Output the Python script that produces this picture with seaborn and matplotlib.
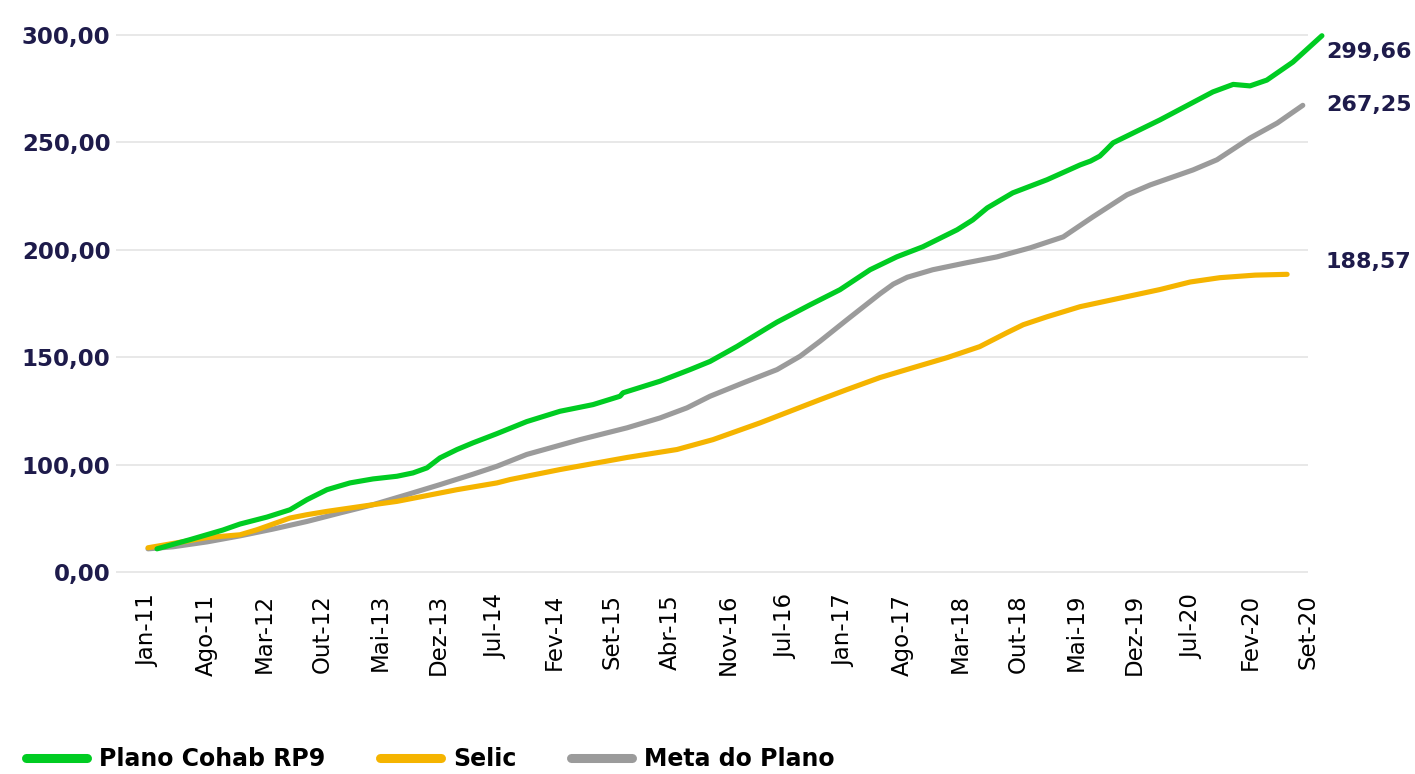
import numpy as np
import pandas as pd
import matplotlib
matplotlib.use("Agg")
import matplotlib.pyplot as plt
from matplotlib.lines import Line2D
import seaborn as sns

# Tick categories along the horizontal axis
x_labels = ["Jan-11", "Ago-11", "Mar-12", "Out-12", "Mai-13", "Dez-13", "Jul-14",
            "Fev-14", "Set-15", "Abr-15", "Nov-16", "Jul-16", "Jan-17", "Ago-17",
            "Mar-18", "Out-18", "Mai-19", "Dez-19", "Jul-20", "Fev-20", "Set-20"]

# Plano Cohab RP9 (position in tick units, accumulated value)
cohab_pos = [0.155, 0.72, 1.29, 1.586, 2.052, 2.448, 2.741, 3.086, 3.483, 3.879, 4.293,
             4.569, 4.810, 5.034, 5.328, 5.603, 6.017, 6.53, 7.103, 7.672, 8.138, 8.190,
             8.828, 9.345, 9.690, 10.155, 10.672, 10.845, 11.41, 11.93, 12.45, 12.91,
             13.36, 13.95, 14.22, 14.47, 14.91, 15.50, 16.07, 16.25, 16.41, 16.52,
             16.64, 17.45, 18.36, 18.71, 19.00, 19.29, 19.74, 20.24]
cohab_val = [21.5, 30.0, 39.0, 44.6, 51.1, 57.9, 67.3, 76.6, 82.9, 86.6, 89.1,
             92.2, 96.9, 103.1, 107.0, 110.1, 114.4, 120.0, 124.8, 127.9, 131.8, 133.4,
             138.8, 144.2, 148.0, 155.0, 163.5, 166.3, 174.3, 181.4, 190.7, 196.7,
             201.4, 209.3, 213.9, 219.5, 226.5, 232.6, 239.5, 241.3, 243.6, 246.5,
             249.8, 260.5, 273.5, 277.0, 276.3, 279.0, 287.4, 299.66]

# Selic
selic_pos = [0.0, 0.43, 1.02, 1.586, 1.879, 2.155, 2.448, 2.741, 3.086, 3.483, 3.879,
             4.293, 4.741, 5.328, 6.017, 6.24, 7.10, 8.26, 9.12, 9.741, 10.552, 11.586,
             12.05, 12.62, 13.19, 13.78, 14.34, 14.81, 15.09, 15.50, 16.07, 16.76,
             17.45, 17.97, 18.48, 19.09, 19.64]
selic_val = [22.5, 26.5, 32.0, 34.6, 39.3, 44.6, 50.2, 53.3, 56.4, 59.5, 62.6,
             65.7, 70.4, 76.6, 82.9, 86.0, 95.3, 103.3, 107.0, 111.6, 119.4, 130.2,
             134.9, 140.5, 145.1, 149.8, 154.9, 161.4, 165.1, 168.8, 173.5, 177.5,
             181.5, 185.0, 187.0, 188.2, 188.57]

# Meta do Plano
meta_pos = [0.0, 0.43, 1.02, 1.586, 2.155, 2.741, 3.310, 3.879, 4.466, 5.034, 5.603,
            6.017, 6.53, 7.448, 8.259, 8.828, 9.293, 9.690, 10.259, 10.845, 11.241,
            11.586, 12.05, 12.62, 12.85, 13.09, 13.53, 14.12, 14.64, 15.21, 15.78,
            16.29, 16.88, 17.28, 18.02, 18.43, 19.00, 19.47, 19.91]
meta_val = [21.5, 23.4, 28.0, 33.6, 39.9, 47.0, 54.9, 62.6, 72.0, 81.3, 91.0,
            98.4, 104.7, 111.6, 117.1, 121.7, 126.4, 131.8, 138.0, 144.2, 150.4,
            157.4, 167.4, 179.5, 184.0, 187.2, 190.7, 194.0, 196.7, 200.9, 206.0,
            215.3, 225.6, 230.2, 237.2, 241.9, 252.0, 259.0, 267.25]

series_names = ["Plano Cohab RP9", "Selic", "Meta do Plano"]
colors = {"Plano Cohab RP9": "#00CC22", "Selic": "#F5B400", "Meta do Plano": "#9B9B9B"}
y_ticks = [0, 100, 150, 200, 250, 300]

df = pd.concat([
    pd.DataFrame({"pos": cohab_pos, "valor": cohab_val, "serie": series_names[0]}),
    pd.DataFrame({"pos": selic_pos, "valor": selic_val, "serie": series_names[1]}),
    pd.DataFrame({"pos": meta_pos, "valor": meta_val, "serie": series_names[2]}),
], ignore_index=True)

sns.set_theme(style="white")
plt.rcParams["font.family"] = ["DejaVu Sans"]

navy = "#1E1B4B"

fig = plt.figure(figsize=(14.15, 7.74), dpi=100)
ax = fig.add_axes([116 / 1415, 1 - 573 / 774, 1192 / 1415, (573 - 32.85) / 774])

# draw grey target first so that the green line stays on top
for name in ["Meta do Plano", "Selic", "Plano Cohab RP9"]:
    sub = df[df["serie"] == name]
    sns.lineplot(data=sub, x="pos", y="valor", ax=ax, color=colors[name],
                 linewidth=3.7, estimator=None, sort=True, legend=False,
                 clip_on=False, solid_capstyle="round", solid_joinstyle="round")

# vertical scale: the 0-100 band is compressed to the height of one 50-unit band
def fwd(v):
    v = np.asarray(v, dtype=float)
    return np.where(v < 100, v / 2.0, v - 50.0)

def inv(u):
    u = np.asarray(u, dtype=float)
    return np.where(u < 50, u * 2.0, u + 50.0)

ax.set_yscale("function", functions=(fwd, inv))
ax.set_ylim(-1, 301)
ax.set_xlim(-0.552, 20)

ax.set_yticks(y_ticks)
ax.set_yticklabels([f"{v:.2f}".replace(".", ",") for v in y_ticks],
                   fontsize=16.5, fontweight="bold", color=navy)
ax.set_xticks(range(len(x_labels)))
ax.set_xticklabels(x_labels, rotation=90, fontsize=16.5, color="#000000")
ax.tick_params(axis="y", length=0, pad=4)
ax.tick_params(axis="x", length=0, pad=15)
ax.yaxis.grid(True, color="#E6E6E6", linewidth=1.3)
ax.xaxis.grid(False)
ax.set_xlabel("")
ax.set_ylabel("")
for s in ax.spines.values():
    s.set_visible(False)

# end-of-series values
end_labels = [(cohab_val[-1], -11.7), (meta_val[-1], 0.5), (selic_val[-1], 9.0)]
for val, dy in end_labels:
    ax.annotate(f"{val:.2f}".replace(".", ","), xy=(1.015, val),
                xycoords=("axes fraction", "data"), xytext=(0, dy),
                textcoords="offset points", ha="left", va="center",
                fontsize=16, fontweight="bold", color=navy, annotation_clip=False)

handles = [Line2D([0], [0], color=colors[n], linewidth=6.5, solid_capstyle="round")
           for n in series_names]
leg = fig.legend(handles, series_names, loc="center left",
                 bbox_to_anchor=(26 / 1415, 1 - 759 / 774), frameon=False,
                 ncol=3, handlelength=2.6, handletextpad=0.5, columnspacing=2.3,
                 borderpad=0, borderaxespad=0,
                 prop={"size": 17, "weight": "bold"})
for t in leg.get_texts():
    t.set_color("#000000")

fig.savefig("out.png", dpi=100, facecolor="white")
